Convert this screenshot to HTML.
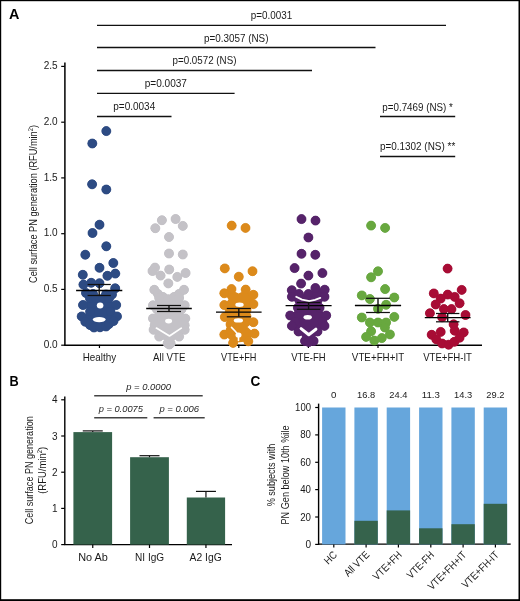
<!DOCTYPE html>
<html><head><meta charset="utf-8"><style>
html,body{margin:0;padding:0;background:#fff;}
svg{display:block;font-family:"Liberation Sans",sans-serif;will-change:transform;}
</style></head><body>
<svg width="520" height="601" viewBox="0 0 520 601">
<rect x="0" y="0" width="520" height="601" fill="#fff"/><rect x="0" y="0" width="520" height="1.2" fill="#000"/><rect x="0" y="0" width="1.2" height="601" fill="#000"/><rect x="518.5" y="0" width="1.5" height="601" fill="#000"/><rect x="0" y="599.2" width="520" height="1.8" fill="#000"/><g font-weight="bold" fill="#000"><text x="9.0" y="19.0" font-size="15" text-anchor="start" textLength="10.4" lengthAdjust="spacingAndGlyphs">A</text><text x="9.6" y="385.9" font-size="14.1" text-anchor="start" textLength="9.2" lengthAdjust="spacingAndGlyphs">B</text><text x="250.4" y="385.7" font-size="14.4" text-anchor="start" textLength="9.8" lengthAdjust="spacingAndGlyphs">C</text></g><g fill="#1a1a1a"><line x1="97" y1="25.4" x2="446" y2="25.4" stroke="#111" stroke-width="1.3"/><text x="271.5" y="18.5" font-size="10.3" text-anchor="middle" textLength="41.4" lengthAdjust="spacingAndGlyphs">p=0.0031</text><line x1="97" y1="47.5" x2="375.5" y2="47.5" stroke="#111" stroke-width="1.3"/><text x="236.25" y="41.5" font-size="10.3" text-anchor="middle" textLength="64.5" lengthAdjust="spacingAndGlyphs">p=0.3057 (NS)</text><line x1="97" y1="70.5" x2="312" y2="70.5" stroke="#111" stroke-width="1.3"/><text x="204.5" y="64" font-size="10.3" text-anchor="middle" textLength="63.9" lengthAdjust="spacingAndGlyphs">p=0.0572 (NS)</text><line x1="97" y1="93.3" x2="234.6" y2="93.3" stroke="#111" stroke-width="1.3"/><text x="165.8" y="87.3" font-size="10.3" text-anchor="middle" textLength="42.3" lengthAdjust="spacingAndGlyphs">p=0.0037</text><line x1="97" y1="116.5" x2="171.5" y2="116.5" stroke="#111" stroke-width="1.3"/><text x="134.25" y="110.4" font-size="10.3" text-anchor="middle" textLength="42.0" lengthAdjust="spacingAndGlyphs">p=0.0034</text><line x1="380" y1="116.5" x2="455.2" y2="116.5" stroke="#111" stroke-width="1.3"/><text x="417.6" y="110.8" font-size="10.3" text-anchor="middle" textLength="70.6" lengthAdjust="spacingAndGlyphs">p=0.7469 (NS) *</text><line x1="380" y1="156.5" x2="455.2" y2="156.5" stroke="#111" stroke-width="1.3"/><text x="417.6" y="149.8" font-size="10.3" text-anchor="middle" textLength="75.4" lengthAdjust="spacingAndGlyphs">p=0.1302 (NS) **</text><line x1="64.9" y1="62.6" x2="64.9" y2="345.9" stroke="#000" stroke-width="1.5"/><line x1="64.2" y1="345.2" x2="482" y2="345.2" stroke="#000" stroke-width="1.5"/><line x1="61.2" y1="345.2" x2="64.7" y2="345.2" stroke="#000" stroke-width="1.2"/><text x="57.7" y="347.9" font-size="10.2" text-anchor="end" textLength="14.0" lengthAdjust="spacingAndGlyphs">0.0</text><line x1="61.2" y1="289.4" x2="64.7" y2="289.4" stroke="#000" stroke-width="1.2"/><text x="57.7" y="292.14" font-size="10.2" text-anchor="end" textLength="14.0" lengthAdjust="spacingAndGlyphs">0.5</text><line x1="61.2" y1="233.7" x2="64.7" y2="233.7" stroke="#000" stroke-width="1.2"/><text x="57.7" y="236.38" font-size="10.2" text-anchor="end" textLength="14.0" lengthAdjust="spacingAndGlyphs">1.0</text><line x1="61.2" y1="177.9" x2="64.7" y2="177.9" stroke="#000" stroke-width="1.2"/><text x="57.7" y="180.61999999999998" font-size="10.2" text-anchor="end" textLength="14.0" lengthAdjust="spacingAndGlyphs">1.5</text><line x1="61.2" y1="122.2" x2="64.7" y2="122.2" stroke="#000" stroke-width="1.2"/><text x="57.7" y="124.86" font-size="10.2" text-anchor="end" textLength="14.0" lengthAdjust="spacingAndGlyphs">2.0</text><line x1="61.2" y1="66.4" x2="64.7" y2="66.4" stroke="#000" stroke-width="1.2"/><text x="57.7" y="69.09999999999998" font-size="10.2" text-anchor="end" textLength="14.0" lengthAdjust="spacingAndGlyphs">2.5</text><line x1="99.45" y1="344.8" x2="99.45" y2="348" stroke="#000" stroke-width="1.2"/><text x="99.45" y="360.6" font-size="10.4" text-anchor="middle" textLength="33.5" lengthAdjust="spacingAndGlyphs">Healthy</text><line x1="169.2" y1="344.8" x2="169.2" y2="348" stroke="#000" stroke-width="1.2"/><text x="169.2" y="360.6" font-size="10.4" text-anchor="middle" textLength="32.4" lengthAdjust="spacingAndGlyphs">All VTE</text><line x1="238.8" y1="344.8" x2="238.8" y2="348" stroke="#000" stroke-width="1.2"/><text x="238.8" y="360.6" font-size="10.4" text-anchor="middle" textLength="35.4" lengthAdjust="spacingAndGlyphs">VTE+FH</text><line x1="308.4" y1="344.8" x2="308.4" y2="348" stroke="#000" stroke-width="1.2"/><text x="308.4" y="360.6" font-size="10.4" text-anchor="middle" textLength="34.3" lengthAdjust="spacingAndGlyphs">VTE-FH</text><line x1="378" y1="344.8" x2="378" y2="348" stroke="#000" stroke-width="1.2"/><text x="378" y="360.6" font-size="10.4" text-anchor="middle" textLength="52.3" lengthAdjust="spacingAndGlyphs">VTE+FH+IT</text><line x1="447.6" y1="344.8" x2="447.6" y2="348" stroke="#000" stroke-width="1.2"/><text x="447.6" y="360.6" font-size="10.4" text-anchor="middle" textLength="48.8" lengthAdjust="spacingAndGlyphs">VTE+FH-IT</text><text transform="translate(36.7,204) rotate(-90)" font-size="11.2" text-anchor="middle" textLength="158" lengthAdjust="spacingAndGlyphs">Cell surface PN generation (RFU/min<tspan font-size="7" dy="-4">2</tspan><tspan dy="4">)</tspan></text></g><g fill="#2d4b83" stroke="#1f3c78" stroke-width="0.7"><circle cx="106.3" cy="131.1" r="4.5"/><circle cx="92.3" cy="143.5" r="4.5"/><circle cx="92.1" cy="184.3" r="4.5"/><circle cx="106.3" cy="189.5" r="4.5"/><circle cx="99.5" cy="224.7" r="4.5"/><circle cx="92.5" cy="233" r="4.5"/><circle cx="106.3" cy="246.3" r="4.5"/><circle cx="85.3" cy="254.7" r="4.5"/><circle cx="113.3" cy="263" r="4.5"/><circle cx="99.5" cy="267.8" r="4.5"/><circle cx="82.8" cy="274.8" r="4.5"/><circle cx="107.4" cy="275.8" r="4.5"/><circle cx="115.3" cy="273.6" r="4.5"/><circle cx="83.4" cy="284.6" r="4.5"/><circle cx="91.2" cy="282.8" r="4.5"/><circle cx="99.5" cy="283.2" r="4.5"/><circle cx="115.2" cy="288.3" r="4.5"/><circle cx="86" cy="293" r="4.5"/><circle cx="93" cy="294" r="4.5"/><circle cx="106" cy="294.5" r="4.5"/><circle cx="112" cy="294.5" r="4.5"/><circle cx="90" cy="298.5" r="4.5"/><circle cx="96" cy="298.5" r="4.5"/><circle cx="103" cy="298.5" r="4.5"/><circle cx="109" cy="298.5" r="4.5"/><circle cx="83" cy="305" r="4.5"/><circle cx="116.2" cy="305" r="4.5"/><circle cx="90.1" cy="311.5" r="4.5"/><circle cx="110.5" cy="311.5" r="4.5"/><circle cx="81.7" cy="316.4" r="4.5"/><circle cx="117" cy="316.4" r="4.5"/><circle cx="85.3" cy="321.7" r="4.5"/><circle cx="90" cy="325" r="4.5"/><circle cx="94" cy="327.5" r="4.5"/><circle cx="100" cy="327.3" r="4.5"/><circle cx="106" cy="326.5" r="4.5"/><circle cx="109" cy="324" r="4.5"/><circle cx="113.5" cy="321" r="4.5"/></g><g fill="#2d4b83"><polygon points="86,293 93,294 99.5,296 106,294.5 112,294.5 109,298.5 116.2,305 110.5,311.5 117,316.4 113.5,321 106,326.5 100,327.3 93,328 89.1,325.6 85.3,321.7 81.7,316.4 90.1,311.5 83,305 90,298.5"/><circle cx="106.3" cy="131.1" r="4.5"/><circle cx="92.3" cy="143.5" r="4.5"/><circle cx="92.1" cy="184.3" r="4.5"/><circle cx="106.3" cy="189.5" r="4.5"/><circle cx="99.5" cy="224.7" r="4.5"/><circle cx="92.5" cy="233" r="4.5"/><circle cx="106.3" cy="246.3" r="4.5"/><circle cx="85.3" cy="254.7" r="4.5"/><circle cx="113.3" cy="263" r="4.5"/><circle cx="99.5" cy="267.8" r="4.5"/><circle cx="82.8" cy="274.8" r="4.5"/><circle cx="107.4" cy="275.8" r="4.5"/><circle cx="115.3" cy="273.6" r="4.5"/><circle cx="83.4" cy="284.6" r="4.5"/><circle cx="91.2" cy="282.8" r="4.5"/><circle cx="99.5" cy="283.2" r="4.5"/><circle cx="115.2" cy="288.3" r="4.5"/><circle cx="86" cy="293" r="4.5"/><circle cx="93" cy="294" r="4.5"/><circle cx="106" cy="294.5" r="4.5"/><circle cx="112" cy="294.5" r="4.5"/><circle cx="90" cy="298.5" r="4.5"/><circle cx="96" cy="298.5" r="4.5"/><circle cx="103" cy="298.5" r="4.5"/><circle cx="109" cy="298.5" r="4.5"/><circle cx="83" cy="305" r="4.5"/><circle cx="116.2" cy="305" r="4.5"/><circle cx="90.1" cy="311.5" r="4.5"/><circle cx="110.5" cy="311.5" r="4.5"/><circle cx="81.7" cy="316.4" r="4.5"/><circle cx="117" cy="316.4" r="4.5"/><circle cx="85.3" cy="321.7" r="4.5"/><circle cx="90" cy="325" r="4.5"/><circle cx="94" cy="327.5" r="4.5"/><circle cx="100" cy="327.3" r="4.5"/><circle cx="106" cy="326.5" r="4.5"/><circle cx="109" cy="324" r="4.5"/><circle cx="113.5" cy="321" r="4.5"/></g><ellipse cx="100.1" cy="305.5" rx="3.3" ry="3.0" fill="#fff"/><ellipse cx="99.2" cy="319.6" rx="6.4" ry="2.6" fill="#fff"/><g fill="#c4c2c7" stroke="#b8b6bc" stroke-width="0.7"><circle cx="161.9" cy="220.2" r="4.5"/><circle cx="175.6" cy="219" r="4.5"/><circle cx="155.3" cy="228.2" r="4.5"/><circle cx="182.8" cy="225.9" r="4.5"/><circle cx="169" cy="237" r="4.5"/><circle cx="169" cy="253.5" r="4.5"/><circle cx="182.8" cy="254.5" r="4.5"/><circle cx="155" cy="267.6" r="4.5"/><circle cx="152.5" cy="271" r="4.5"/><circle cx="169.2" cy="269.5" r="4.5"/><circle cx="160.6" cy="275.6" r="4.5"/><circle cx="177.3" cy="276.9" r="4.5"/><circle cx="185.6" cy="273" r="4.5"/><circle cx="168.3" cy="283.4" r="4.5"/><circle cx="154.3" cy="289.8" r="4.5"/><circle cx="158" cy="294" r="4.5"/><circle cx="163" cy="297" r="4.5"/><circle cx="168.3" cy="299.2" r="4.5"/><circle cx="174" cy="297" r="4.5"/><circle cx="179" cy="294" r="4.5"/><circle cx="184" cy="289.8" r="4.5"/><circle cx="159.2" cy="298" r="4.5"/><circle cx="179.1" cy="298" r="4.5"/><circle cx="153" cy="305.3" r="4.5"/><circle cx="184.7" cy="305.3" r="4.5"/><circle cx="157" cy="309.4" r="4.5"/><circle cx="181.4" cy="309.4" r="4.5"/><circle cx="153" cy="318.5" r="4.5"/><circle cx="185.3" cy="318.5" r="4.5"/><circle cx="154.7" cy="325.2" r="4.5"/><circle cx="184.7" cy="325.2" r="4.5"/><circle cx="153.6" cy="329.8" r="4.5"/><circle cx="184.7" cy="329.8" r="4.5"/><circle cx="159.2" cy="336.6" r="4.5"/><circle cx="179.1" cy="336.6" r="4.5"/><circle cx="167.7" cy="343.3" r="4.5"/><circle cx="170.6" cy="343.3" r="4.5"/><circle cx="169.3" cy="344.5" r="4.5"/></g><g fill="#c4c2c7"><polygon points="154.3,289.8 168.3,299.2 184,289.8 179.1,298 184.7,305.3 181.4,309.4 185.3,318.5 184.7,329.8 179.1,336.6 170.6,343.3 167.7,343.3 159.2,336.6 153.6,329.8 153,318.5 157,309.4 153,305.3 159.2,298"/><circle cx="161.9" cy="220.2" r="4.5"/><circle cx="175.6" cy="219" r="4.5"/><circle cx="155.3" cy="228.2" r="4.5"/><circle cx="182.8" cy="225.9" r="4.5"/><circle cx="169" cy="237" r="4.5"/><circle cx="169" cy="253.5" r="4.5"/><circle cx="182.8" cy="254.5" r="4.5"/><circle cx="155" cy="267.6" r="4.5"/><circle cx="152.5" cy="271" r="4.5"/><circle cx="169.2" cy="269.5" r="4.5"/><circle cx="160.6" cy="275.6" r="4.5"/><circle cx="177.3" cy="276.9" r="4.5"/><circle cx="185.6" cy="273" r="4.5"/><circle cx="168.3" cy="283.4" r="4.5"/><circle cx="154.3" cy="289.8" r="4.5"/><circle cx="158" cy="294" r="4.5"/><circle cx="163" cy="297" r="4.5"/><circle cx="168.3" cy="299.2" r="4.5"/><circle cx="174" cy="297" r="4.5"/><circle cx="179" cy="294" r="4.5"/><circle cx="184" cy="289.8" r="4.5"/><circle cx="159.2" cy="298" r="4.5"/><circle cx="179.1" cy="298" r="4.5"/><circle cx="153" cy="305.3" r="4.5"/><circle cx="184.7" cy="305.3" r="4.5"/><circle cx="157" cy="309.4" r="4.5"/><circle cx="181.4" cy="309.4" r="4.5"/><circle cx="153" cy="318.5" r="4.5"/><circle cx="185.3" cy="318.5" r="4.5"/><circle cx="154.7" cy="325.2" r="4.5"/><circle cx="184.7" cy="325.2" r="4.5"/><circle cx="153.6" cy="329.8" r="4.5"/><circle cx="184.7" cy="329.8" r="4.5"/><circle cx="159.2" cy="336.6" r="4.5"/><circle cx="179.1" cy="336.6" r="4.5"/><circle cx="167.7" cy="343.3" r="4.5"/><circle cx="170.6" cy="343.3" r="4.5"/><circle cx="169.3" cy="344.5" r="4.5"/></g><ellipse cx="168.6" cy="321.1" rx="3.5" ry="2.3" fill="#fff"/><polyline points="156.4,328.1 169.5,336 181.3,328.1" fill="none" stroke="#fff" stroke-width="1.7" stroke-linecap="round" stroke-linejoin="round"/><g fill="#dc8a1b" stroke="#d4841a" stroke-width="0.7"><circle cx="231.7" cy="225.6" r="4.5"/><circle cx="245.5" cy="227.9" r="4.5"/><circle cx="224.8" cy="268.4" r="4.5"/><circle cx="238.8" cy="276.7" r="4.5"/><circle cx="252.5" cy="271.2" r="4.5"/><circle cx="231.5" cy="289.1" r="4.5"/><circle cx="245.7" cy="289.6" r="4.5"/><circle cx="224.3" cy="293.3" r="4.5"/><circle cx="253.4" cy="294.8" r="4.5"/><circle cx="224.3" cy="305.1" r="4.5"/><circle cx="253.4" cy="304.1" r="4.5"/><circle cx="224.8" cy="317" r="4.5"/><circle cx="246.5" cy="316.5" r="4.5"/><circle cx="253.4" cy="322.2" r="4.5"/><circle cx="230.5" cy="324.3" r="4.5"/><circle cx="224.3" cy="334.6" r="4.5"/><circle cx="230.5" cy="330.5" r="4.5"/><circle cx="254.5" cy="333.6" r="4.5"/><circle cx="233.1" cy="342.9" r="4.5"/><circle cx="248.3" cy="341.3" r="4.5"/><circle cx="229.8" cy="311" r="4.5"/><circle cx="246.5" cy="310" r="4.5"/></g><g fill="#dc8a1b"><polygon points="231.5,290 238.6,293.5 245.7,290 253.4,294.8 253.4,304.1 246.5,311 246.5,316.5 253.4,322.2 247.5,327 254.5,333.6 248.3,341.3 233.1,342.9 224.3,334.6 230.5,328 224.8,317 229.8,311 224.3,305.1 228.5,299.5 224.3,293.3"/><circle cx="231.7" cy="225.6" r="4.5"/><circle cx="245.5" cy="227.9" r="4.5"/><circle cx="224.8" cy="268.4" r="4.5"/><circle cx="238.8" cy="276.7" r="4.5"/><circle cx="252.5" cy="271.2" r="4.5"/><circle cx="231.5" cy="289.1" r="4.5"/><circle cx="245.7" cy="289.6" r="4.5"/><circle cx="224.3" cy="293.3" r="4.5"/><circle cx="253.4" cy="294.8" r="4.5"/><circle cx="224.3" cy="305.1" r="4.5"/><circle cx="253.4" cy="304.1" r="4.5"/><circle cx="224.8" cy="317" r="4.5"/><circle cx="246.5" cy="316.5" r="4.5"/><circle cx="253.4" cy="322.2" r="4.5"/><circle cx="230.5" cy="324.3" r="4.5"/><circle cx="224.3" cy="334.6" r="4.5"/><circle cx="230.5" cy="330.5" r="4.5"/><circle cx="254.5" cy="333.6" r="4.5"/><circle cx="233.1" cy="342.9" r="4.5"/><circle cx="248.3" cy="341.3" r="4.5"/><circle cx="229.8" cy="311" r="4.5"/><circle cx="246.5" cy="310" r="4.5"/></g><ellipse cx="239.5" cy="304.7" rx="4.2" ry="2.2" fill="#fff"/><ellipse cx="238.4" cy="320.4" rx="4.6" ry="2.2" fill="#fff"/><ellipse cx="238.5" cy="335" rx="3" ry="2.6" fill="#fff"/><polyline points="231.5,327.4 235,331 238.5,335 238.5,340.5" fill="none" stroke="#fff" stroke-width="1.6" stroke-linecap="round" stroke-linejoin="round"/><g fill="#56236a" stroke="#4b1e60" stroke-width="0.7"><circle cx="301.5" cy="219.1" r="4.5"/><circle cx="315.5" cy="220.6" r="4.5"/><circle cx="308.4" cy="237.5" r="4.5"/><circle cx="301.5" cy="253.8" r="4.5"/><circle cx="315.3" cy="254.8" r="4.5"/><circle cx="294.6" cy="268.1" r="4.5"/><circle cx="308.4" cy="275.6" r="4.5"/><circle cx="322.4" cy="273.1" r="4.5"/><circle cx="301.1" cy="283.6" r="4.5"/><circle cx="291.8" cy="290.2" r="4.5"/><circle cx="299" cy="294" r="4.5"/><circle cx="308.5" cy="294" r="4.5"/><circle cx="315.4" cy="288" r="4.5"/><circle cx="324.7" cy="289.7" r="4.5"/><circle cx="291.9" cy="296.8" r="4.5"/><circle cx="324.5" cy="296.8" r="4.5"/><circle cx="297.9" cy="307.8" r="4.5"/><circle cx="319.6" cy="307.8" r="4.5"/><circle cx="290.2" cy="315.5" r="4.5"/><circle cx="326.2" cy="315.5" r="4.5"/><circle cx="295.2" cy="321.5" r="4.5"/><circle cx="322.4" cy="321.5" r="4.5"/><circle cx="291.9" cy="325.9" r="4.5"/><circle cx="324.5" cy="325.9" r="4.5"/><circle cx="298.5" cy="331.5" r="4.5"/><circle cx="317.5" cy="331.5" r="4.5"/><circle cx="305" cy="341" r="4.5"/><circle cx="313.6" cy="341" r="4.5"/><circle cx="308.8" cy="342" r="4.5"/></g><g fill="#56236a"><polygon points="291.8,290.2 299,294 308.5,294 315.4,288 324.7,289.7 324.5,296.8 319.6,307.8 326.2,315.5 322.4,321.5 324.5,325.9 317.5,331.5 313.6,341 305,341 298.5,331.5 291.9,325.9 295.2,321.5 290.2,315.5 297.9,307.8 291.9,296.8"/><circle cx="301.5" cy="219.1" r="4.5"/><circle cx="315.5" cy="220.6" r="4.5"/><circle cx="308.4" cy="237.5" r="4.5"/><circle cx="301.5" cy="253.8" r="4.5"/><circle cx="315.3" cy="254.8" r="4.5"/><circle cx="294.6" cy="268.1" r="4.5"/><circle cx="308.4" cy="275.6" r="4.5"/><circle cx="322.4" cy="273.1" r="4.5"/><circle cx="301.1" cy="283.6" r="4.5"/><circle cx="291.8" cy="290.2" r="4.5"/><circle cx="299" cy="294" r="4.5"/><circle cx="308.5" cy="294" r="4.5"/><circle cx="315.4" cy="288" r="4.5"/><circle cx="324.7" cy="289.7" r="4.5"/><circle cx="291.9" cy="296.8" r="4.5"/><circle cx="324.5" cy="296.8" r="4.5"/><circle cx="297.9" cy="307.8" r="4.5"/><circle cx="319.6" cy="307.8" r="4.5"/><circle cx="290.2" cy="315.5" r="4.5"/><circle cx="326.2" cy="315.5" r="4.5"/><circle cx="295.2" cy="321.5" r="4.5"/><circle cx="322.4" cy="321.5" r="4.5"/><circle cx="291.9" cy="325.9" r="4.5"/><circle cx="324.5" cy="325.9" r="4.5"/><circle cx="298.5" cy="331.5" r="4.5"/><circle cx="317.5" cy="331.5" r="4.5"/><circle cx="305" cy="341" r="4.5"/><circle cx="313.6" cy="341" r="4.5"/><circle cx="308.8" cy="342" r="4.5"/></g><ellipse cx="307.7" cy="317.3" rx="4.2" ry="2.3" fill="#fff"/><polyline points="296.2,296.8 302,299.6 309.3,301.2 315,299.8 320.3,297.9" fill="none" stroke="#fff" stroke-width="1.8" stroke-linecap="round" stroke-linejoin="round"/><polyline points="301.1,328.6 308.8,334.7 315.9,329.2" fill="none" stroke="#fff" stroke-width="3.0" stroke-linecap="round" stroke-linejoin="round"/><g fill="#68a83f" stroke="#5f9f38" stroke-width="0.7"><circle cx="371.1" cy="225.6" r="4.5"/><circle cx="385.1" cy="227.9" r="4.5"/><circle cx="378" cy="271.3" r="4.5"/><circle cx="371.1" cy="277.3" r="4.5"/><circle cx="385.1" cy="289.1" r="4.5"/><circle cx="361.8" cy="295.4" r="4.5"/><circle cx="369.9" cy="299" r="4.5"/><circle cx="394.3" cy="297.5" r="4.5"/><circle cx="386.1" cy="304.8" r="4.5"/><circle cx="378" cy="308.8" r="4.5"/><circle cx="361.8" cy="317.5" r="4.5"/><circle cx="394.3" cy="316.9" r="4.5"/><circle cx="369.9" cy="322.5" r="4.5"/><circle cx="378" cy="322.5" r="4.5"/><circle cx="386.1" cy="322.5" r="4.5"/><circle cx="371.1" cy="331.3" r="4.5"/><circle cx="384.9" cy="327.5" r="4.5"/><circle cx="366.1" cy="336.9" r="4.5"/><circle cx="389.9" cy="334.4" r="4.5"/><circle cx="381.8" cy="338.1" r="4.5"/><circle cx="374.3" cy="340.6" r="4.5"/></g><g fill="#68a83f"><circle cx="371.1" cy="225.6" r="4.5"/><circle cx="385.1" cy="227.9" r="4.5"/><circle cx="378" cy="271.3" r="4.5"/><circle cx="371.1" cy="277.3" r="4.5"/><circle cx="385.1" cy="289.1" r="4.5"/><circle cx="361.8" cy="295.4" r="4.5"/><circle cx="369.9" cy="299" r="4.5"/><circle cx="394.3" cy="297.5" r="4.5"/><circle cx="386.1" cy="304.8" r="4.5"/><circle cx="378" cy="308.8" r="4.5"/><circle cx="361.8" cy="317.5" r="4.5"/><circle cx="394.3" cy="316.9" r="4.5"/><circle cx="369.9" cy="322.5" r="4.5"/><circle cx="378" cy="322.5" r="4.5"/><circle cx="386.1" cy="322.5" r="4.5"/><circle cx="371.1" cy="331.3" r="4.5"/><circle cx="384.9" cy="327.5" r="4.5"/><circle cx="366.1" cy="336.9" r="4.5"/><circle cx="389.9" cy="334.4" r="4.5"/><circle cx="381.8" cy="338.1" r="4.5"/><circle cx="374.3" cy="340.6" r="4.5"/></g><g fill="#a80c35" stroke="#9c0a30" stroke-width="0.7"><circle cx="447.6" cy="268.6" r="4.5"/><circle cx="433.8" cy="293.4" r="4.5"/><circle cx="461.7" cy="289.9" r="4.5"/><circle cx="447.7" cy="294.6" r="4.5"/><circle cx="440.7" cy="298.6" r="4.5"/><circle cx="454.7" cy="296.9" r="4.5"/><circle cx="435.7" cy="304.5" r="4.5"/><circle cx="459.6" cy="303.3" r="4.5"/><circle cx="443.9" cy="309.1" r="4.5"/><circle cx="451.5" cy="309.1" r="4.5"/><circle cx="429.9" cy="313.2" r="4.5"/><circle cx="465.5" cy="315" r="4.5"/><circle cx="442.1" cy="317.3" r="4.5"/><circle cx="453.6" cy="324.3" r="4.5"/><circle cx="454.7" cy="330.7" r="4.5"/><circle cx="440.7" cy="331.9" r="4.5"/><circle cx="431.7" cy="334.8" r="4.5"/><circle cx="463.7" cy="332.4" r="4.5"/><circle cx="436.3" cy="339.4" r="4.5"/><circle cx="442.1" cy="343.5" r="4.5"/><circle cx="448.6" cy="344.7" r="4.5"/><circle cx="454.4" cy="341.8" r="4.5"/><circle cx="459.6" cy="337.7" r="4.5"/></g><g fill="#a80c35"><circle cx="447.6" cy="268.6" r="4.5"/><circle cx="433.8" cy="293.4" r="4.5"/><circle cx="461.7" cy="289.9" r="4.5"/><circle cx="447.7" cy="294.6" r="4.5"/><circle cx="440.7" cy="298.6" r="4.5"/><circle cx="454.7" cy="296.9" r="4.5"/><circle cx="435.7" cy="304.5" r="4.5"/><circle cx="459.6" cy="303.3" r="4.5"/><circle cx="443.9" cy="309.1" r="4.5"/><circle cx="451.5" cy="309.1" r="4.5"/><circle cx="429.9" cy="313.2" r="4.5"/><circle cx="465.5" cy="315" r="4.5"/><circle cx="442.1" cy="317.3" r="4.5"/><circle cx="453.6" cy="324.3" r="4.5"/><circle cx="454.7" cy="330.7" r="4.5"/><circle cx="440.7" cy="331.9" r="4.5"/><circle cx="431.7" cy="334.8" r="4.5"/><circle cx="463.7" cy="332.4" r="4.5"/><circle cx="436.3" cy="339.4" r="4.5"/><circle cx="442.1" cy="343.5" r="4.5"/><circle cx="448.6" cy="344.7" r="4.5"/><circle cx="454.4" cy="341.8" r="4.5"/><circle cx="459.6" cy="337.7" r="4.5"/></g><line x1="76.1" y1="290.5" x2="122.3" y2="290.5" stroke="#000" stroke-width="1.3"/><line x1="87.6" y1="284.5" x2="110.8" y2="284.5" stroke="#111" stroke-width="1.25"/><line x1="87.6" y1="295.5" x2="110.8" y2="295.5" stroke="#111" stroke-width="1.25"/><line x1="99.2" y1="284.5" x2="99.2" y2="295.5" stroke="#111" stroke-width="1.4"/><line x1="146.2" y1="308.5" x2="191.8" y2="308.5" stroke="#000" stroke-width="1.3"/><line x1="157.0" y1="305.5" x2="181.0" y2="305.5" stroke="#111" stroke-width="1.25"/><line x1="157.0" y1="311.5" x2="181.0" y2="311.5" stroke="#111" stroke-width="1.25"/><line x1="169" y1="305.5" x2="169" y2="311.5" stroke="#111" stroke-width="1.4"/><line x1="216.0" y1="312.2" x2="261.6" y2="312.2" stroke="#000" stroke-width="1.3"/><line x1="226.8" y1="308.5" x2="250.8" y2="308.5" stroke="#111" stroke-width="1.25"/><line x1="226.8" y1="316.8" x2="250.8" y2="316.8" stroke="#111" stroke-width="1.25"/><line x1="238.8" y1="308.5" x2="238.8" y2="316.8" stroke="#111" stroke-width="1.4"/><line x1="285.6" y1="305.7" x2="331.6" y2="305.7" stroke="#000" stroke-width="1.3"/><line x1="296.8" y1="302.5" x2="320.4" y2="302.5" stroke="#111" stroke-width="1.25"/><line x1="296.8" y1="309.3" x2="320.4" y2="309.3" stroke="#111" stroke-width="1.25"/><line x1="308.6" y1="302.5" x2="308.6" y2="309.3" stroke="#111" stroke-width="1.4"/><line x1="354.9" y1="305.5" x2="401.1" y2="305.5" stroke="#000" stroke-width="1.3"/><line x1="366.1" y1="298.3" x2="389.9" y2="298.3" stroke="#111" stroke-width="1.25"/><line x1="366.1" y1="312.5" x2="389.9" y2="312.5" stroke="#111" stroke-width="1.25"/><line x1="378" y1="298.3" x2="378" y2="312.5" stroke="#111" stroke-width="1.4"/><line x1="424.8" y1="317.6" x2="470.6" y2="317.6" stroke="#000" stroke-width="1.3"/><line x1="436.0" y1="313.5" x2="459.4" y2="313.5" stroke="#111" stroke-width="1.25"/><line x1="436.0" y1="321.8" x2="459.4" y2="321.8" stroke="#111" stroke-width="1.25"/><line x1="447.7" y1="313.5" x2="447.7" y2="321.8" stroke="#111" stroke-width="1.4"/><g fill="#1a1a1a"><line x1="64.8" y1="396.4" x2="64.8" y2="545" stroke="#000" stroke-width="1.4"/><line x1="64.2" y1="544.6" x2="232" y2="544.6" stroke="#000" stroke-width="1.4"/><line x1="61.2" y1="544.6" x2="64.8" y2="544.6" stroke="#000" stroke-width="1.2"/><text x="57.5" y="548.1" font-size="10.0" text-anchor="end">0</text><line x1="61.2" y1="508.4" x2="64.8" y2="508.4" stroke="#000" stroke-width="1.2"/><text x="57.5" y="511.90000000000003" font-size="10.0" text-anchor="end">1</text><line x1="61.2" y1="472.2" x2="64.8" y2="472.2" stroke="#000" stroke-width="1.2"/><text x="57.5" y="475.70000000000005" font-size="10.0" text-anchor="end">2</text><line x1="61.2" y1="436.0" x2="64.8" y2="436.0" stroke="#000" stroke-width="1.2"/><text x="57.5" y="439.5" font-size="10.0" text-anchor="end">3</text><line x1="61.2" y1="399.8" x2="64.8" y2="399.8" stroke="#000" stroke-width="1.2"/><text x="57.5" y="403.3" font-size="10.0" text-anchor="end">4</text><rect x="73.4" y="432.1" width="38.7" height="112.5" fill="#35624b"/><line x1="92.75" y1="430.9" x2="92.75" y2="432.1" stroke="#111" stroke-width="1.2"/><line x1="82.75" y1="430.9" x2="102.75" y2="430.9" stroke="#111" stroke-width="1.2"/><line x1="92.75" y1="544.6" x2="92.75" y2="548" stroke="#000" stroke-width="1.2"/><text x="93.05" y="561.1" font-size="10.1" text-anchor="middle" textLength="29.7" lengthAdjust="spacingAndGlyphs">No Ab</text><rect x="130.1" y="457.2" width="38.8" height="87.4" fill="#35624b"/><line x1="149.5" y1="455.7" x2="149.5" y2="457.2" stroke="#111" stroke-width="1.2"/><line x1="139.5" y1="455.7" x2="159.5" y2="455.7" stroke="#111" stroke-width="1.2"/><line x1="149.5" y1="544.6" x2="149.5" y2="548" stroke="#000" stroke-width="1.2"/><text x="149.65" y="561.1" font-size="10.1" text-anchor="middle" textLength="29.1" lengthAdjust="spacingAndGlyphs">NI IgG</text><rect x="186.8" y="497.5" width="38.3" height="47.1" fill="#35624b"/><line x1="205.95" y1="491.4" x2="205.95" y2="497.5" stroke="#111" stroke-width="1.2"/><line x1="195.95" y1="491.4" x2="215.95" y2="491.4" stroke="#111" stroke-width="1.2"/><line x1="205.95" y1="544.6" x2="205.95" y2="548" stroke="#000" stroke-width="1.2"/><text x="205.7" y="561.1" font-size="10.1" text-anchor="middle" textLength="32.199999999999996" lengthAdjust="spacingAndGlyphs">A2 IgG</text><g fill="#262626" font-style="italic"><line x1="94.2" y1="395.8" x2="202.7" y2="395.8" stroke="#444" stroke-width="1.4"/><line x1="94.2" y1="417.7" x2="147.3" y2="417.7" stroke="#444" stroke-width="1.4"/><line x1="153.6" y1="417.7" x2="204.7" y2="417.7" stroke="#444" stroke-width="1.4"/><text x="148.6" y="389.6" font-size="8.6" text-anchor="middle" textLength="44.8" lengthAdjust="spacingAndGlyphs">p = 0.0000</text><text x="120.8" y="411.7" font-size="8.6" text-anchor="middle" textLength="44.3" lengthAdjust="spacingAndGlyphs">p = 0.0075</text><text x="179.2" y="411.7" font-size="8.6" text-anchor="middle" textLength="39.6" lengthAdjust="spacingAndGlyphs">p = 0.006</text></g><text transform="translate(32.6,470.3) rotate(-90)" font-size="11.8" text-anchor="middle" textLength="108" lengthAdjust="spacingAndGlyphs">Cell surface PN generation</text><text transform="translate(46.4,470.3) rotate(-90)" font-size="11.4" text-anchor="middle" textLength="47" lengthAdjust="spacingAndGlyphs">(RFU/min<tspan font-size="7" dy="-4">2</tspan><tspan dy="4">)</tspan></text></g><g fill="#1a1a1a"><line x1="318.6" y1="403.6" x2="318.6" y2="545" stroke="#000" stroke-width="1.4"/><line x1="318" y1="544.1" x2="510.7" y2="544.1" stroke="#000" stroke-width="1.4"/><line x1="315.2" y1="544.4" x2="318.6" y2="544.4" stroke="#000" stroke-width="1.2"/><text x="311" y="548.0" font-size="10.4" text-anchor="end" textLength="5.6" lengthAdjust="spacingAndGlyphs">0</text><line x1="315.2" y1="517.0" x2="318.6" y2="517.0" stroke="#000" stroke-width="1.2"/><text x="311" y="520.62" font-size="10.4" text-anchor="end" textLength="10.8" lengthAdjust="spacingAndGlyphs">20</text><line x1="315.2" y1="489.6" x2="318.6" y2="489.6" stroke="#000" stroke-width="1.2"/><text x="311" y="493.24" font-size="10.4" text-anchor="end" textLength="10.8" lengthAdjust="spacingAndGlyphs">40</text><line x1="315.2" y1="462.3" x2="318.6" y2="462.3" stroke="#000" stroke-width="1.2"/><text x="311" y="465.86" font-size="10.4" text-anchor="end" textLength="10.8" lengthAdjust="spacingAndGlyphs">60</text><line x1="315.2" y1="434.9" x2="318.6" y2="434.9" stroke="#000" stroke-width="1.2"/><text x="311" y="438.48" font-size="10.4" text-anchor="end" textLength="10.8" lengthAdjust="spacingAndGlyphs">80</text><line x1="315.2" y1="407.5" x2="318.6" y2="407.5" stroke="#000" stroke-width="1.2"/><text x="311" y="411.1" font-size="10.4" text-anchor="end" textLength="15.9" lengthAdjust="spacingAndGlyphs">100</text><rect x="322.1" y="407.5" width="23.4" height="136.9" fill="#66a6dc"/><line x1="333.8" y1="544.4" x2="333.8" y2="547.5" stroke="#000" stroke-width="1.2"/><text x="333.8" y="397.8" font-size="9.7" text-anchor="middle">0</text><text transform="translate(337.8,555.5) rotate(-45)" font-size="10.6" text-anchor="end" textLength="13.4" lengthAdjust="spacingAndGlyphs">HC</text><rect x="354.4" y="407.5" width="23.4" height="136.9" fill="#66a6dc"/><rect x="354.4" y="520.8" width="23.4" height="23.6" fill="#36634c"/><line x1="366.1" y1="544.4" x2="366.1" y2="547.5" stroke="#000" stroke-width="1.2"/><text x="366.1" y="397.8" font-size="9.7" text-anchor="middle" textLength="18.1" lengthAdjust="spacingAndGlyphs">16.8</text><text transform="translate(370.1,555.5) rotate(-45)" font-size="10.6" text-anchor="end" textLength="30.9" lengthAdjust="spacingAndGlyphs">All VTE</text><rect x="386.7" y="407.5" width="23.4" height="136.9" fill="#66a6dc"/><rect x="386.7" y="510.4" width="23.4" height="34.0" fill="#36634c"/><line x1="398.4" y1="544.4" x2="398.4" y2="547.5" stroke="#000" stroke-width="1.2"/><text x="398.4" y="397.8" font-size="9.7" text-anchor="middle" textLength="18.1" lengthAdjust="spacingAndGlyphs">24.4</text><text transform="translate(402.4,555.5) rotate(-45)" font-size="10.6" text-anchor="end" textLength="35.8" lengthAdjust="spacingAndGlyphs">VTE+FH</text><rect x="419.1" y="407.5" width="23.4" height="136.9" fill="#66a6dc"/><rect x="419.1" y="528.3" width="23.4" height="16.1" fill="#36634c"/><line x1="430.8" y1="544.4" x2="430.8" y2="547.5" stroke="#000" stroke-width="1.2"/><text x="430.8" y="397.8" font-size="9.7" text-anchor="middle" textLength="18.1" lengthAdjust="spacingAndGlyphs">11.3</text><text transform="translate(434.8,555.5) rotate(-45)" font-size="10.6" text-anchor="end" textLength="33.5" lengthAdjust="spacingAndGlyphs">VTE-FH</text><rect x="451.4" y="407.5" width="23.4" height="136.9" fill="#66a6dc"/><rect x="451.4" y="524.2" width="23.4" height="20.2" fill="#36634c"/><line x1="463.1" y1="544.4" x2="463.1" y2="547.5" stroke="#000" stroke-width="1.2"/><text x="463.1" y="397.8" font-size="9.7" text-anchor="middle" textLength="18.1" lengthAdjust="spacingAndGlyphs">14.3</text><text transform="translate(467.1,555.5) rotate(-45)" font-size="10.6" text-anchor="end" textLength="49.5" lengthAdjust="spacingAndGlyphs">VTE+FH+IT</text><rect x="483.7" y="407.5" width="23.4" height="136.9" fill="#66a6dc"/><rect x="483.7" y="503.8" width="23.4" height="40.6" fill="#36634c"/><line x1="495.4" y1="544.4" x2="495.4" y2="547.5" stroke="#000" stroke-width="1.2"/><text x="495.4" y="397.8" font-size="9.7" text-anchor="middle" textLength="18.1" lengthAdjust="spacingAndGlyphs">29.2</text><text transform="translate(499.4,555.5) rotate(-45)" font-size="10.6" text-anchor="end" textLength="47.1" lengthAdjust="spacingAndGlyphs">VTE+FH-IT</text><text transform="translate(274.5,475) rotate(-90)" font-size="11.6" text-anchor="middle" textLength="62.5" lengthAdjust="spacingAndGlyphs">% subjects with</text><text transform="translate(288.8,475) rotate(-90)" font-size="11.6" text-anchor="middle" textLength="99" lengthAdjust="spacingAndGlyphs">PN Gen below 10th %ile</text></g>
</svg>
</body></html>
